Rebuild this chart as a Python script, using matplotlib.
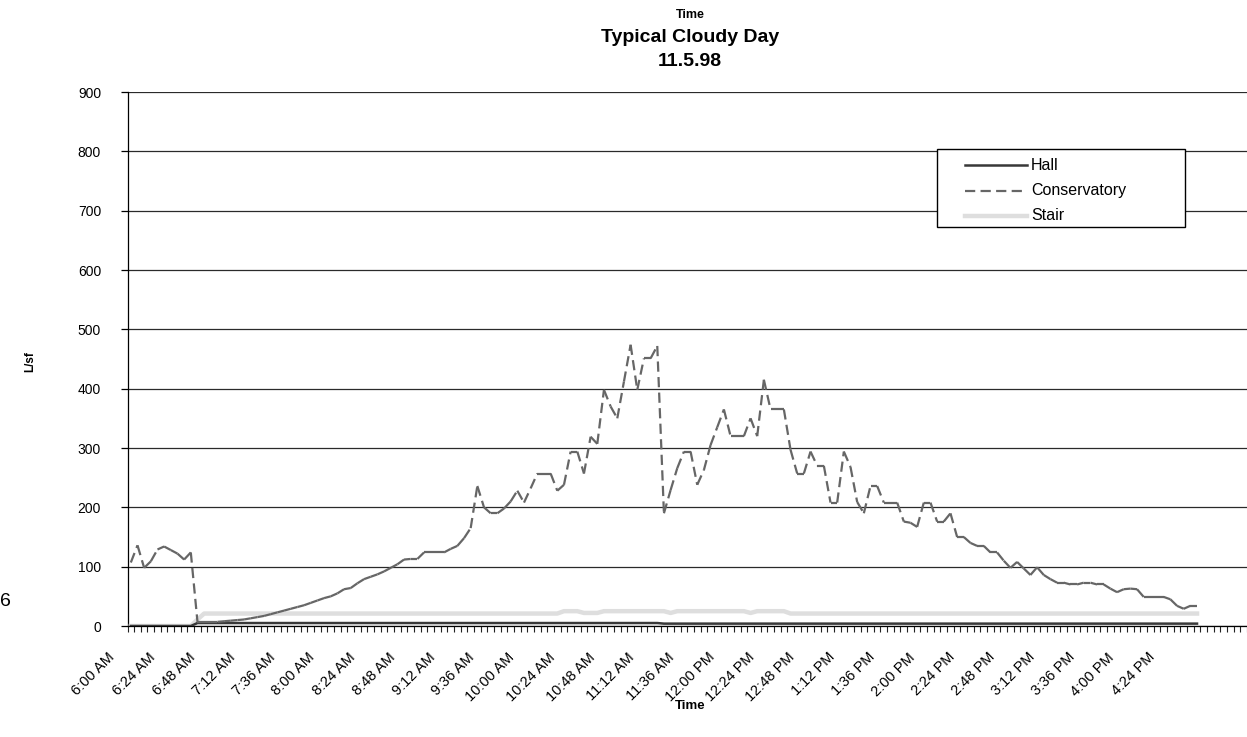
import numpy as np
import matplotlib
matplotlib.use("Agg")
import matplotlib.pyplot as plt
from matplotlib import transforms
from matplotlib.collections import LineCollection
from matplotlib.lines import Line2D
from matplotlib.patches import Rectangle

plt.rcParams['font.family'] = ['Liberation Sans', 'DejaVu Sans']

# readings every 4 minutes from 6:00 AM (161 points)
conservatory = [
    107, 136, 98, 109, 129, 134, 128, 122, 112, 124,
    7, 7, 7, 7, 8, 9, 10, 11, 13, 15,
    17, 20, 23, 26, 29, 32, 35, 39, 43, 47,
    50, 55, 62, 64, 72, 79, 83, 87, 92, 98,
    104, 112, 113, 113, 124, 124, 124, 124, 130, 135,
    148, 165, 236, 200, 190, 190, 198, 210, 228, 208,
    232, 257, 257, 257, 228, 238, 294, 294, 257, 319,
    307, 398, 370, 350, 412, 474, 398, 451, 451, 472,
    190, 229, 266, 294, 294, 238, 263, 305, 335, 365,
    320, 320, 320, 350, 320, 415, 365, 365, 365, 297,
    257, 257, 294, 270, 270, 208, 208, 294, 268, 209,
    190, 236, 236, 208, 208, 208, 176, 174, 167, 208,
    208, 176, 176, 190, 150, 150, 140, 135, 135, 124,
    124, 110, 98, 108, 97, 86, 99, 86, 79, 73,
    73, 70, 70, 73, 73, 70, 70, 63, 57, 62,
    63, 62, 49, 49, 49, 49, 45, 34, 29, 34,
    34,
]
hall = [
    0, 0, 0, 0, 0, 0, 0, 0, 0, 0,
    5, 5, 5, 5, 5, 5, 5, 5, 5, 5,
    5, 5, 5, 5, 5, 5, 5, 5, 5, 5,
    5, 5, 5, 5, 5, 5, 5, 5, 5, 5,
    5, 5, 5, 5, 5, 5, 5, 5, 5, 5,
    5, 5, 5, 5, 5, 5, 5, 5, 5, 5,
    5, 5, 5, 5, 5, 5, 5, 5, 5, 5,
    5, 5, 5, 5, 5, 5, 5, 5, 5, 5,
    4, 4, 4, 4, 4, 4, 4, 4, 4, 4,
    4, 4, 4, 4, 4, 4, 4, 4, 4, 4,
    4, 4, 4, 4, 4, 4, 4, 4, 4, 4,
    4, 4, 4, 4, 4, 4, 4, 4, 4, 4,
    4, 4, 4, 4, 4, 4, 4, 4, 4, 4,
    4, 4, 4, 4, 4, 4, 4, 4, 4, 4,
    4, 4, 4, 4, 4, 4, 4, 4, 4, 4,
    4, 4, 4, 4, 4, 4, 4, 4, 4, 4,
    4,
]
stair = [
    0, 0, 0, 0, 0, 0, 0, 0, 0, 0,
    11, 21, 21, 21, 21, 21, 21, 21, 21, 21,
    21, 21, 21, 21, 21, 21, 21, 21, 21, 21,
    21, 21, 21, 21, 21, 21, 21, 21, 21, 21,
    21, 21, 21, 21, 21, 21, 21, 21, 21, 21,
    21, 21, 21, 21, 21, 21, 21, 21, 21, 21,
    21, 21, 21, 21, 21, 25, 25, 25, 22, 22,
    22, 25, 25, 25, 25, 25, 25, 25, 25, 25,
    25, 22, 25, 25, 25, 25, 25, 25, 25, 25,
    25, 25, 25, 22, 25, 25, 25, 25, 25, 21,
    21, 21, 21, 21, 21, 21, 21, 21, 21, 21,
    21, 21, 21, 21, 21, 21, 21, 21, 21, 21,
    21, 21, 21, 21, 21, 21, 21, 21, 21, 21,
    21, 21, 21, 21, 21, 21, 21, 21, 21, 21,
    21, 21, 21, 21, 21, 21, 21, 21, 21, 21,
    21, 21, 21, 21, 21, 21, 21, 21, 21, 21,
    21,
]
tick_labels = [
    "6:00 AM", "6:24 AM", "6:48 AM", "7:12 AM", "7:36 AM", "8:00 AM",
    "8:24 AM", "8:48 AM", "9:12 AM", "9:36 AM", "10:00 AM", "10:24 AM",
    "10:48 AM", "11:12 AM", "11:36 AM", "12:00 PM", "12:24 PM", "12:48 PM",
    "1:12 PM", "1:36 PM", "2:00 PM", "2:24 PM", "2:48 PM", "3:12 PM",
    "3:36 PM", "4:00 PM", "4:24 PM",
]
series_names = ["Hall", "Conservatory", "Stair"]
label_every = 6

W, H = 1247, 737
fig = plt.figure(figsize=(W / 100, H / 100), dpi=100)
ax = fig.add_axes([127.5 / W, 111 / H, (W - 127.5) / W, 534 / H])

x = np.arange(len(conservatory))

# stair (light) under everything, then hall, then conservatory
ax.plot(x, stair, color="#dedede", lw=3.2, solid_joinstyle="round", zorder=3)
ax.plot(x, hall, color="#383838", lw=1.8, zorder=4)
# excel restarts the dash on every segment, so draw it as a collection
pts = np.column_stack([x, conservatory])
segs = np.stack([pts[:-1], pts[1:]], axis=1)
lc = LineCollection(segs, colors="#666666", linewidths=1.6,
                    linestyles=[(0, (4.6, 2.4))], zorder=5)
ax.add_collection(lc)

ax.set_xlim(-0.5, -0.5 + (W - 127.5) / 6.67)
ax.set_ylim(0, 900)
ax.set_yticks(range(0, 901, 100))
ax.yaxis.grid(True, color="#2a2a2a", lw=0.9)
ax.set_axisbelow(True)
ax.tick_params(axis="y", direction="out", length=5, width=0.9, pad=14,
               labelsize=10, colors="black")
ax.set_xticks([])
ax.set_xticks(np.arange(-0.5, 168, 1), minor=True)
ax.tick_params(axis="x", which="minor", direction="out", length=4,
               width=0.8, color="#222222")
for s in ["top", "right"]:
    ax.spines[s].set_visible(False)
for s in ["left", "bottom"]:
    ax.spines[s].set_color("black")
    ax.spines[s].set_linewidth(0.9)

# rotated category labels
off = transforms.ScaledTranslation(-18 / 100, -29 / 100, fig.dpi_scale_trans)
trans = transforms.blended_transform_factory(ax.transData, ax.transAxes) + off
for k, lab in enumerate(tick_labels):
    ax.text(k * label_every, 0, lab, transform=trans, rotation=45,
            rotation_mode="anchor", ha="right", va="center", fontsize=10.5)

# titles and axis titles
fig.text(690 / W, 1 - 15 / H, "Time", ha="center", va="center",
         fontsize=9, fontweight="bold")
fig.text(690 / W, 1 - 37 / H, "Typical Cloudy Day", ha="center",
         va="center", fontsize=14, fontweight="bold")
fig.text(690 / W, 1 - 62 / H, "11.5.98", ha="center", va="center",
         fontsize=14, fontweight="bold")
fig.text(690 / W, 1 - 706 / H, "Time", ha="center", va="center",
         fontsize=9.5, fontweight="bold")
fig.text(30 / W, 1 - 362 / H, "L/sf", ha="center", va="center",
         rotation=90, fontsize=8.5, fontweight="bold")
fig.text(0 / W, 1 - 601 / H, "6", ha="left", va="center", fontsize=14)

# legend box, drawn by hand to get the excel spacing
fig.add_artist(Rectangle((937 / W, 1 - 227 / H), 248 / W, 78 / H,
                         transform=fig.transFigure, facecolor="white",
                         edgecolor="black", lw=1.0, zorder=10))
styles = [
    dict(color="#383838", lw=1.8, ls="-"),
    dict(color="#666666", lw=1.6, ls=(0, (4.6, 2.4))),
    dict(color="#dedede", lw=3.2, ls="-"),
]
for j, (name, st) in enumerate(zip(series_names, styles)):
    yy = 1 - (165 + 25.5 * j) / H
    fig.add_artist(Line2D([965 / W, 1027 / W], [yy, yy],
                          transform=fig.transFigure, zorder=11, **st))
    fig.text(1031 / W, yy, name, ha="left", va="center", fontsize=11.5,
             zorder=12)

fig.savefig("out.png", dpi=100)
